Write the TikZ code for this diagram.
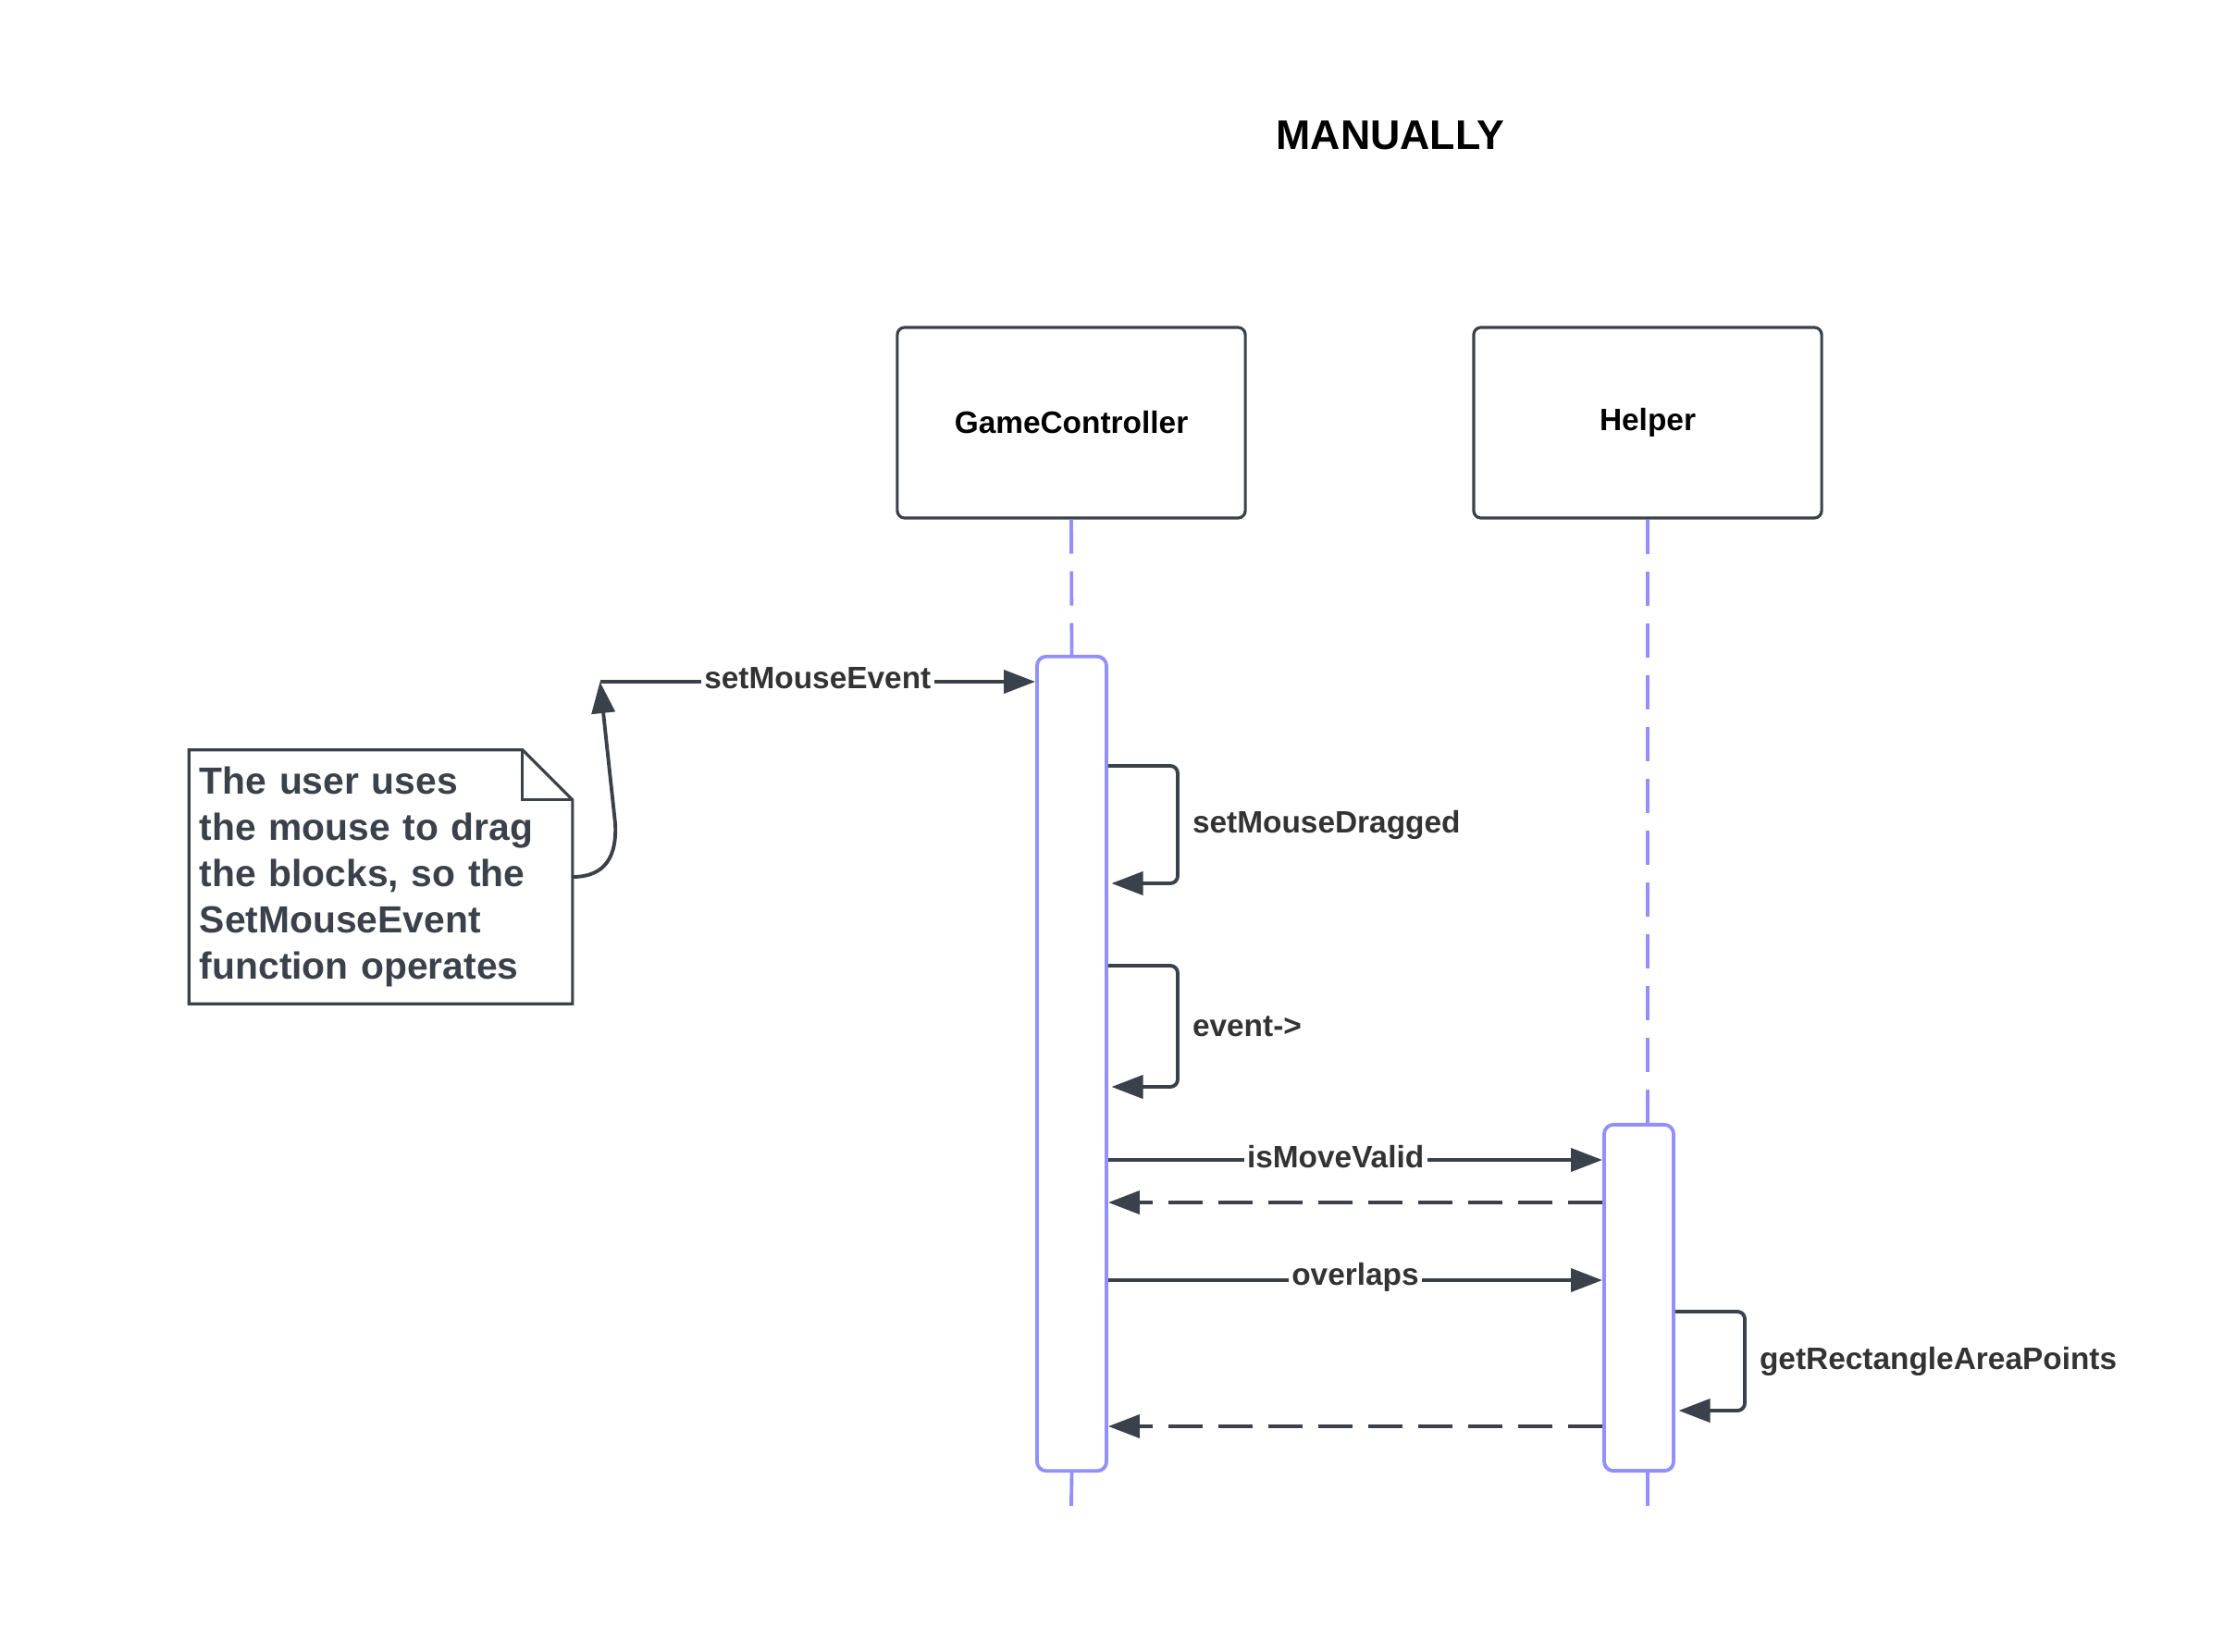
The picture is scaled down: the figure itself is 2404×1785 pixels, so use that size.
\documentclass[tikz,border=0pt]{standalone}
\usepackage{fontspec}
\setmainfont{Liberation Sans}
\usetikzlibrary{arrows.meta,positioning}
\definecolor{slate}{RGB}{58,65,74}
\definecolor{lilac}{RGB}{146,144,255}
\definecolor{labelgray}{RGB}{51,51,51}

\begin{document}
\begin{tikzpicture}[x=0.01cm,y=-0.01cm,line join=round]
    \tikzstyle{participant}=[draw=slate,line width=0.9pt,rounded corners=0.08cm,minimum width=3.76cm,minimum height=2.06cm,font=\fontsize{9.5}{11}\selectfont\bfseries]
    \tikzstyle{activation}=[draw=lilac,fill=white,line width=1.1pt,rounded corners=0.1cm,minimum width=0.75cm,inner sep=0pt]
    \tikzstyle{lifeline}=[draw=lilac,line width=1.1pt,dash pattern=on 0.37cm off 0.19cm]
    \tikzstyle{msg}=[draw=slate,line width=1.1pt,-{Triangle[length=0.34cm,width=0.25cm]}]
    \tikzstyle{reply}=[msg,dash pattern=on 0.37cm off 0.17cm]
    \tikzstyle{self}=[msg,rounded corners=0.08cm]
    \tikzstyle{lbl}=[fill=white,inner sep=1pt,text=labelgray,font=\fontsize{9.5}{11}\selectfont\bfseries]
    \tikzstyle{notebox}=[draw=slate,line width=0.9pt,line join=miter]

\useasboundingbox (0,0) rectangle (2404,1785);

\node[font=\fontsize{12.7}{15}\selectfont\bfseries] (title) at (1503,146) {MANUALLY};

% participants
\node[participant] (gc) at (1158,457) {GameController};
\node[participant] (hp) at (1781,457) {Helper};

% activation bars
\node[activation,minimum height=8.8cm] (gcact) at (1158.5,1150) {};
\node[activation,minimum height=3.74cm] (hpact) at (1771.5,1403) {};

\coordinate (gcend) at (1158,1628);
\draw[lifeline] (gc.south) -- (gcact.north);
\draw[lifeline] (gcact.south) -- (gcend);
\draw[lifeline] (hp.south) -- (hp.south |- hpact.north);
\draw[lifeline] (hp.south |- hpact.south) -- (hp.south |- gcend);

% note
\node[text width=3.91cm,inner xsep=0.11cm,minimum height=2.73cm,align=left,text=slate,font=\fontsize{11.6}{14.2}\selectfont\bfseries] (note) at (411.5,948) {The user uses\\the mouse to drag\\the blocks, so the\\SetMouseEvent\\function operates};
\draw[notebox] (note.north west) -- ([xshift=-0.54cm]note.north east) -- ([yshift=-0.54cm]note.north east) -- (note.south east) -- (note.south west) -- cycle;
\draw[notebox] ([xshift=-0.54cm]note.north east) |- ([yshift=-0.54cm]note.north east);

% messages
\coordinate (src) at (648.5,737);
\draw[msg] (src) -- node[lbl,yshift=1pt] {setMouseEvent} (src -| gcact.west);
\draw[msg] (note.east) .. controls (655,948) and (667,925) .. (665,890) -- (src);

\draw[self] (gcact.east |- 0,828) -- (1273,828) -- node[lbl,right=3pt] {setMouseDragged} (1273,955) -- ([xshift=1pt]gcact.east |- 0,955);
\draw[self] (gcact.east |- 0,1044) -- (1273,1044) -- node[lbl,right=3pt] {event->} (1273,1175) -- ([xshift=1pt]gcact.east |- 0,1175);

\draw[msg] (gcact.east |- 0,1254) -- node[lbl,pos=0.46,yshift=1pt] {isMoveValid} (hpact.west |- 0,1254);
\draw[reply] (hpact.west |- 0,1300) -- (gcact.east |- 0,1300);
\draw[msg] (gcact.east |- 0,1384) -- node[lbl,yshift=1pt] {overlaps} (hpact.west |- 0,1384);
\draw[self] (hpact.east |- 0,1418) -- (1886,1418) -- node[lbl,right=3pt] {getRectangleAreaPoints} (1886,1525) -- ([xshift=1pt]hpact.east |- 0,1525);
\draw[reply] (hpact.west |- 0,1542) -- (gcact.east |- 0,1542);
\end{tikzpicture}
\end{document}
